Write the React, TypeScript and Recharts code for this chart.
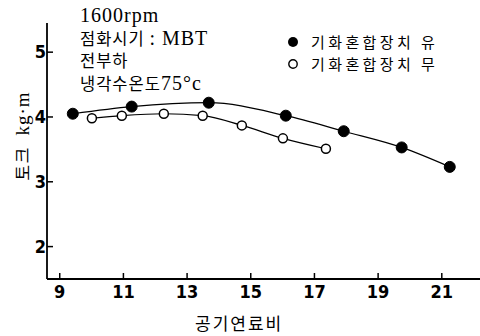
import React from 'react';
import { ComposedChart, Line, XAxis, YAxis } from 'recharts';

const withMixer = [
  { x: 9.41, y: 4.05 },
  { x: 11.26, y: 4.16 },
  { x: 13.68, y: 4.22 },
  { x: 16.1, y: 4.02 },
  { x: 17.92, y: 3.78 },
  { x: 19.74, y: 3.53 },
  { x: 21.25, y: 3.23 },
];

const withoutMixer = [
  { x: 10.01, y: 3.98 },
  { x: 10.95, y: 4.02 },
  { x: 12.27, y: 4.05 },
  { x: 13.49, y: 4.02 },
  { x: 14.72, y: 3.87 },
  { x: 16.01, y: 3.67 },
  { x: 17.36, y: 3.51 },
];

const xTicks = [9, 11, 13, 15, 17, 19, 21];
const yTicks = [2, 3, 4, 5];
const seriesNames = ['기화혼합장치 유', '기화혼합장치 무'];
const noteLines = ['1600rpm', '점화시기 : MBT', '전부하', '냉각수온도75°c'];
const xLabel = '공기연료비';
const yLabel = '토크  kg·m';

const tickFont = '"Liberation Sans Narrow", "DejaVu Sans Condensed", "Liberation Sans", sans-serif';
const serifFont = '"Liberation Serif", "DejaVu Serif", serif';
const krFont = '"Noto Sans CJK KR", sans-serif';

const isHangul = (c: string) => /[\u3130-\u318F\uAC00-\uD7AF\u1100-\u11FF]/.test(c);

const MixedText = ({ text, krSize, latSize, krSpacing = 1 }: { text: string; krSize: number; latSize: number; krSpacing?: number }) => {
  const runs: { kr: boolean; s: string }[] = [];
  for (const ch of Array.from(text)) {
    const kr = isHangul(ch) || (ch === ' ' && runs.length > 0 && runs[runs.length - 1].kr);
    if (runs.length && runs[runs.length - 1].kr === kr) runs[runs.length - 1].s += ch;
    else runs.push({ kr, s: ch });
  }
  return (
    <>
      {runs.map((r, i) =>
        r.kr ? (
          <span key={i} style={{ fontFamily: krFont, fontSize: krSize, letterSpacing: krSpacing }}>
            {r.s}
          </span>
        ) : (
          <span key={i} style={{ fontFamily: serifFont, fontSize: latSize, letterSpacing: 1 }}>
            {r.s}
          </span>
        )
      )}
    </>
  );
};

const XTick = (props: any) => {
  const { x, y, payload } = props;
  return (
    <g>
      <line x1={x} y1={y} x2={x} y2={y - 6} stroke="#000" strokeWidth={1.5} />
      <text x={x} y={y + 19} textAnchor="middle" fontFamily={tickFont} fontWeight="bold" fontSize={18} fill="#000">
        {payload.value}
      </text>
    </g>
  );
};

const YTick = (props: any) => {
  const { x, y, payload } = props;
  return (
    <g>
      <line x1={x} y1={y} x2={x + 6} y2={y} stroke="#000" strokeWidth={1.5} />
      <text x={x - 1} y={y + 6} textAnchor="end" fontFamily={tickFont} fontWeight="bold" fontSize={18} fill="#000">
        {payload.value}
      </text>
    </g>
  );
};

const FilledDot = (props: any) => {
  const { cx, cy, index } = props;
  if (cx == null || cy == null) return <g key={index} />;
  return <circle key={index} cx={cx} cy={cy} r={5.5} fill="#000" stroke="#000" />;
};

const OpenDot = (props: any) => {
  const { cx, cy, index } = props;
  if (cx == null || cy == null) return <g key={index} />;
  return <circle key={index} cx={cx} cy={cy} r={4.5} fill="#fff" stroke="#000" strokeWidth={1.5} />;
};

export default function App() {
  return (
    <div style={{ position: 'absolute', left: 0, top: 0, width: 480, height: 336, background: '#fff' }}>
      <ComposedChart width={480} height={336} margin={{ top: 23, right: 0, left: 46, bottom: 56 }}>
        <XAxis
          type="number"
          dataKey="x"
          domain={[8.6, 22.2]}
          ticks={xTicks}
          allowDataOverflow
          height={1}
          tickSize={0}
          tickMargin={0}
          tickLine={false}
          axisLine={{ stroke: '#000', strokeWidth: 1.8 }}
          tick={<XTick />}
        />
        <YAxis
          type="number"
          domain={[1.5, 5.45]}
          ticks={yTicks}
          allowDataOverflow
          width={1}
          tickSize={0}
          tickMargin={0}
          tickLine={false}
          axisLine={{ stroke: '#000', strokeWidth: 1.8 }}
          tick={<YTick />}
        />
        <Line
          data={withMixer}
          dataKey="y"
          name={seriesNames[0]}
          type="monotone"
          stroke="#000"
          strokeWidth={1.2}
          dot={<FilledDot />}
          activeDot={false}
          isAnimationActive={false}
        />
        <Line
          data={withoutMixer}
          dataKey="y"
          name={seriesNames[1]}
          type="monotone"
          stroke="#000"
          strokeWidth={1.2}
          dot={<OpenDot />}
          activeDot={false}
          isAnimationActive={false}
        />
      </ComposedChart>

      <div style={{ position: 'absolute', left: 80, top: 4, lineHeight: '22.5px', color: '#000', whiteSpace: 'pre' }}>
        {noteLines.map((t, i) => (
          <div key={i} style={{ height: 22.5 }}>
            <MixedText text={t} krSize={16.5} latSize={20} />
          </div>
        ))}
      </div>

      {seriesNames.map((n, i) => (
        <div
          key={i}
          style={{
            position: 'absolute',
            left: 286,
            top: 31 + i * 22,
            height: 21,
            display: 'flex',
            alignItems: 'center',
            fontFamily: krFont,
            fontSize: 15,
            lineHeight: '21px',
            color: '#000',
            whiteSpace: 'pre',
          }}
        >
          <svg width={14} height={14} style={{ marginRight: 11 }}>
            {i === 0 ? (
              <circle cx={7} cy={7} r={5} fill="#000" />
            ) : (
              <circle cx={7} cy={7} r={4.2} fill="#fff" stroke="#000" strokeWidth={1.4} />
            )}
          </svg>
          <span style={{ letterSpacing: 3.4 }}>{n}</span>
        </div>
      ))}

      <div style={{ position: 'absolute', left: 195, top: 310, fontFamily: krFont, fontSize: 17, letterSpacing: 2, color: '#000', whiteSpace: 'pre' }}>
        {xLabel}
      </div>

      <div
        style={{
          position: 'absolute',
          left: 21,
          top: 136,
          transform: 'translate(-50%, -50%) rotate(-90deg)',
          color: '#000',
          whiteSpace: 'pre',
        }}
      >
        <MixedText text={yLabel} krSize={17} latSize={19} krSpacing={1.5} />
      </div>
    </div>
  );
}
